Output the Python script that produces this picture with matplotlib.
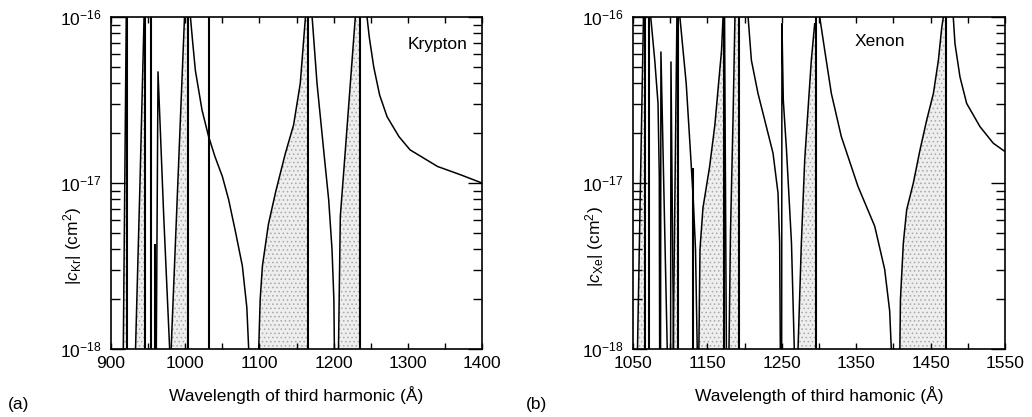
import matplotlib
matplotlib.use("Agg")
import matplotlib.pyplot as plt
import numpy as np

plt.rcParams["font.family"] = ["Liberation Sans", "DejaVu Sans"]
plt.rcParams["mathtext.fontset"] = "custom"
plt.rcParams["mathtext.rm"] = "Liberation Sans"
plt.rcParams["mathtext.it"] = "Liberation Sans:italic"
plt.rcParams["font.size"] = 12.5
plt.rcParams["hatch.linewidth"] = 0.6

# values are (wavelength in Å) and log10(|c| / cm^2)

# ---- Krypton ----
# shaded (negative) branches: (pole, wavelengths, log|c|)
kr_shaded = [
    (921.5, [916.5, 918.5, 920.5], [-18.0, -17.0, -16.0]),
    (946.0, [933.0, 939.0, 944.5], [-18.0, -17.0, -16.0]),
    (1004.0, [981.0, 990.0, 999.0], [-18.0, -17.0, -16.0]),
    (1166.0, [1099, 1101, 1104, 1112, 1122, 1135, 1146, 1155, 1162],
     [-18.0, -17.7, -17.5, -17.25, -17.05, -16.82, -16.65, -16.4, -16.0]),
    (1236.0, [1206.5, 1209, 1215.8, 1222.5, 1229.2],
     [-18.0, -17.2, -16.8, -16.4, -16.0]),
]
kr_curves = [
    ([961, 963.3, 971, 979], [-18.0, -16.33, -17.2, -18.0]),
    ([1007, 1010, 1013.6, 1022.6, 1031.5, 1040, 1050, 1058.5, 1068, 1077, 1083, 1085.5],
     [-16.0, -16.15, -16.32, -16.56, -16.72, -16.84, -16.96, -17.1, -17.3, -17.5, -17.75, -18.0]),
    ([1171, 1177.6, 1186.5, 1193.3, 1197.8, 1200.3, 1201],
     [-16.0, -16.4, -16.8, -17.1, -17.4, -17.7, -18.0]),
    ([1245, 1248, 1254, 1262, 1272, 1288, 1303, 1340, 1371, 1400],
     [-16.0, -16.12, -16.3, -16.47, -16.6, -16.72, -16.8, -16.9, -16.95, -17.0]),
]
kr_poles = [921.5, 946.0, 954.0, 1004.0, 1031.5, 1166.0, 1236.0]
kr_spikes = [(959.5, -17.37)]
kr_xticks = [900, 1000, 1100, 1200, 1300, 1400]
kr_xminor = [950, 1050, 1150, 1250, 1350]

# ---- Xenon ----
xe_shaded = [
    (1066.5, [1056, 1060, 1064], [-18.0, -17.0, -16.0]),
    (1110.8, [1104, 1106.5, 1109], [-18.0, -17.0, -16.0]),
    (1172.3, [1138.5, 1140, 1144, 1153, 1160, 1165, 1169, 1171],
     [-18.0, -17.4, -17.15, -16.9, -16.65, -16.4, -16.2, -16.0]),
    (1192.7, [1179, 1181, 1184.5, 1187], [-18.0, -17.3, -16.6, -16.0]),
    (1296.4, [1271.8, 1276.3, 1280.8, 1285.2, 1289.7, 1294.2],
     [-18.0, -17.36, -16.86, -16.56, -16.26, -16.04]),
    (1470.5, [1408.7, 1409.5, 1413.4, 1417.9, 1426.8, 1435.8, 1444.8, 1453.8, 1460.5, 1465.1, 1467.2],
     [-18.0, -17.7, -17.36, -17.16, -17.0, -16.8, -16.62, -16.46, -16.26, -16.06, -16.0]),
]
xe_curves = [
    ([1073.8, 1079.2, 1083.6, 1085.3, 1085.8], [-16.0, -16.26, -16.52, -16.96, -18.0]),
    ([1087, 1087.5, 1096], [-18.0, -16.21, -18.0]),
    ([1100.5, 1101, 1104.5], [-18.0, -16.27, -18.0]),
    ([1113, 1121.5, 1127, 1131, 1134, 1136.3], [-16.0, -16.4, -16.8, -17.1, -17.4, -18.0]),
    ([1173, 1175.5], [-16.0, -18.0]),
    ([1204.7, 1209.1, 1218, 1227, 1238.2, 1244.9, 1247.1, 1248],
     [-16.0, -16.26, -16.46, -16.62, -16.82, -17.06, -17.36, -18.0]),
    ([1249.8, 1250.2, 1252, 1256.3, 1263, 1266.8], [-18.0, -16.04, -16.5, -16.8, -17.36, -18.0]),
    ([1301, 1307.7, 1316.6, 1330, 1352.4, 1374.9, 1388.3, 1395, 1397.2],
     [-16.0, -16.2, -16.46, -16.72, -17.02, -17.26, -17.52, -17.77, -18.0]),
    ([1480.5, 1482.8, 1489.5, 1498.5, 1516.4, 1534.3, 1550],
     [-16.0, -16.16, -16.36, -16.52, -16.66, -16.76, -16.81]),
]
xe_poles = [1066.5, 1071.0, 1110.8, 1172.3, 1192.7, 1296.4, 1470.5]
xe_spikes = [(1131.0, -16.91)]
xe_xticks = [1050, 1150, 1250, 1350, 1450, 1550]
xe_xminor = [1100, 1200, 1300, 1400, 1500]


def draw(ax, shaded, curves, poles, spikes, xticks, xminor, name, name_pos, ylabel, xlabel):
    for pole, wl, lg in shaded:
        y = 10.0 ** np.array(lg)
        ax.fill_betweenx(y, wl, pole, facecolor="#eeeeee", edgecolor="#a8a8a8",
                         hatch="....", linewidth=0)
        ax.plot(wl, y, color="k", lw=1.1)
    for wl, lg in curves:
        ax.plot(wl, 10.0 ** np.array(lg), color="k", lw=1.1)
    ax.vlines(poles, 1e-18, 1e-16, color="k", lw=1.5)
    for x, top in spikes:
        ax.vlines(x, 1e-18, 10.0 ** top, color="k", lw=1.5)

    ax.set_yscale("log")
    ax.set_ylim(1e-18, 1e-16)
    ax.set_xlim(xticks[0], xticks[-1])
    ax.set_xticks(xticks)
    ax.set_xticks(xminor, minor=True)
    ax.tick_params(which="both", direction="in", top=True, right=True, labelsize=12.5)
    ax.tick_params(axis="x", which="both", length=4.3, width=1, pad=5)
    ax.tick_params(axis="y", which="major", length=10, width=1, pad=7)
    ax.tick_params(axis="y", which="minor", length=6.5, width=1)
    for s in ax.spines.values():
        s.set_linewidth(1.2)
    ax.text(name_pos[0], name_pos[1], name, transform=ax.transAxes,
            ha="center", va="center", fontsize=12.5)
    ax.set_ylabel(ylabel, fontsize=12.5)
    ax.yaxis.set_label_coords(-0.072, 0.31)
    ax.set_xlabel(xlabel, fontsize=12.5, labelpad=11)


fig = plt.figure(figsize=(10.32, 4.17), dpi=100)
ax1 = fig.add_axes([0.1076, 0.163, 0.3595, 0.796])
ax2 = fig.add_axes([0.6134, 0.163, 0.3604, 0.796])

draw(ax1, kr_shaded, kr_curves, kr_poles, kr_spikes, kr_xticks, kr_xminor,
     "Krypton", (0.879, 0.916), r"$|c_{\rm Kr}|$ (cm$^2$)",
     "Wavelength of third harmonic (Å)")
draw(ax2, xe_shaded, xe_curves, xe_poles, xe_spikes, xe_xticks, xe_xminor,
     "Xenon", (0.664, 0.925), r"$|c_{\rm Xe}|$ (cm$^2$)",
     "Wavelength of third hamonic (Å)")

fig.text(8 / 1032, 1 - 405 / 417, "(a)", fontsize=12.5, va="center")
fig.text(526 / 1032, 1 - 405 / 417, "(b)", fontsize=12.5, va="center")

fig.savefig("out.png", dpi=100)
